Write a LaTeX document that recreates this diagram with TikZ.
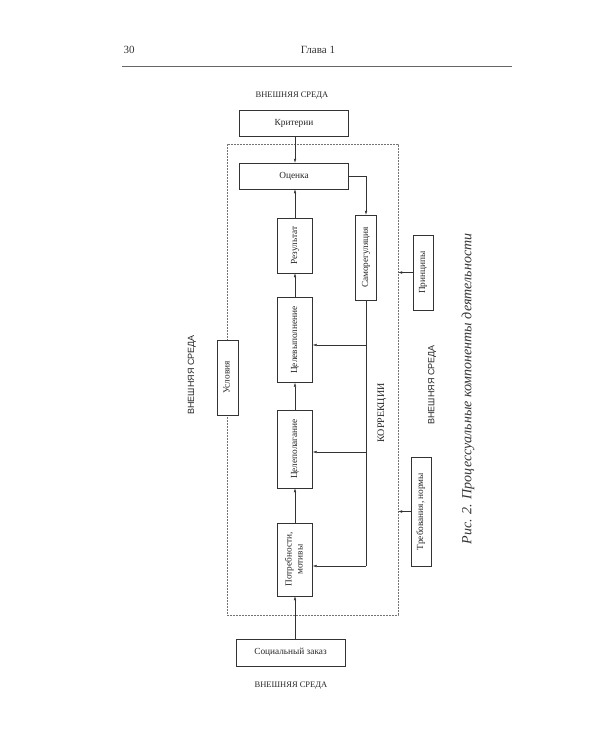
\documentclass[tikz,border=0pt]{standalone}
\usepackage{fontspec}
\setmainfont{Liberation Serif}
\setsansfont{Liberation Sans}
\usetikzlibrary{arrows.meta,positioning}
\tikzset{
  box/.style={rectangle, draw=black!80, fill=white, inner sep=1pt, font=\fontsize{9.3}{11}\selectfont, text=black!85},
  hbox/.style={box, minimum width=109pt, minimum height=26pt},
  vbox/.style={box, minimum width=35pt},
  nbox/.style={box, minimum width=21pt},
  zone/.style={rectangle, draw=black!55, dash pattern=on 1.6pt off 1.4pt},
  env/.style={font=\fontsize{8.5}{10}\selectfont, text=black!85},
  senv/.style={env, font=\sffamily\fontsize{9}{10}\selectfont, rotate=90},
  arr/.style={-{Latex[length=4pt,width=2.6pt]}, draw=black!80},
  link/.style={draw=black!80}
}
\newcommand{\vtext}[1]{\rotatebox{90}{\begin{tabular}{@{}c@{}}#1\end{tabular}}}

\begin{document}
\begin{tikzpicture}[x=1pt,y=-1pt]
\useasboundingbox (0,0) rectangle (600,750);

% page header
\node[font=\fontsize{11}{13}\selectfont, text=black!80] (page) at (129,50) {30};
\node[font=\fontsize{11}{13}\selectfont, text=black!80] (chap) at (318,50) {Глава 1};
\draw[black!60] (122,66) -- (512,66);

% dashed frame of the activity
\node[zone, minimum width=171pt, minimum height=471pt] (frame) at (312.5,379.5) {};

% boxes
\node[hbox] (krit) at (294,123) {Критерии};
\node[hbox] (ocen) at (294,176) {Оценка};
\node[vbox, minimum height=55pt] (rez) at (295,245.5) {\vtext{Результат}};
\node[nbox, minimum height=85pt] (samo) at (366,257.5) {\vtext{Саморегуляция}};
\node[vbox, minimum height=85pt] (celv) at (295,340) {\vtext{Целевыполнение}};
\node[vbox, minimum height=78pt] (celp) at (295,449) {\vtext{Целеполагание}};
\node[vbox, minimum height=73pt] (potr) at (295,559.5) {\vtext{Потребности,\\мотивы}};
\node[hbox, minimum height=27pt] (soc) at (290.5,652.5) {Социальный заказ};
\node[nbox, minimum height=75pt] (usl) at (227.5,377.5) {\vtext{Условия}};
\node[nbox, minimum width=20pt, minimum height=75pt] (princ) at (423,272.5) {\vtext{Принципы}};
\node[nbox, minimum width=20pt, minimum height=109pt] (treb) at (421,511.5) {\vtext{Требования, нормы}};

% environment labels
\node[env] (envtop) at (292,96) {ВНЕШНЯЯ СРЕДА};
\node[env] (envbot) at (291,686) {ВНЕШНЯЯ СРЕДА};
\node[senv] (envleft) at (192,375) {ВНЕШНЯЯ СРЕДА};
\node[senv] (envright) at (432,385) {ВНЕШНЯЯ СРЕДА};
\node[env, font=\fontsize{10}{11}\selectfont, rotate=90] (korr) at (382,413) {КОРРЕКЦИИ};

% caption
\node[font=\itshape\fontsize{14}{16}\selectfont, text=black!80, rotate=90] (cap) at (468,389) {Рис. 2. Процессуальные компоненты деятельности};

% main chain
\draw[arr] (krit.south -| rez.north) -- (ocen.north -| rez.north);
\draw[arr] (rez.north) -- (rez.north |- ocen.south);
\draw[arr] (celv) -- (rez);
\draw[arr] (celp) -- (celv);
\draw[arr] (potr) -- (celp);
\draw[arr] (soc.north -| potr.south) -- (potr.south);

% self-regulation and corrections
\draw[arr] (ocen.east) -| (samo.north);
\coordinate (k1) at (366,345);
\coordinate (k2) at (366,452);
\coordinate (k3) at (366,566);
\draw[link] (samo.south) -- (k3);
\draw[arr] (k1) -- (k1 -| celv.east);
\draw[arr] (k2) -- (k2 -| celp.east);
\draw[arr] (k3) -- (k3 -| potr.east);

% external norms
\draw[arr] (princ.west) -- (princ.west -| frame.east);
\draw[arr] (treb.west) -- (treb.west -| frame.east);
\end{tikzpicture}
\end{document}
